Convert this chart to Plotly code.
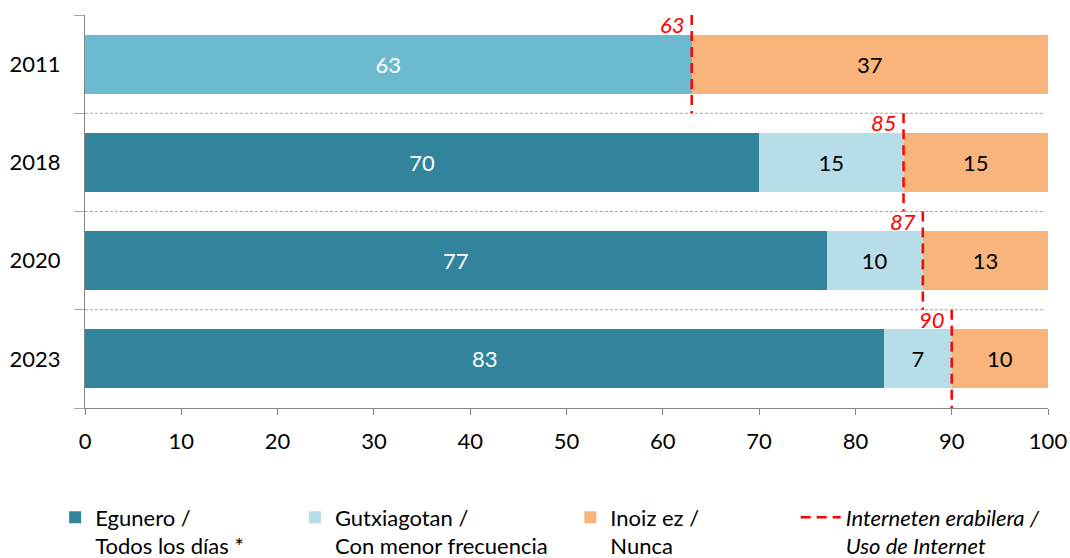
import plotly.graph_objects as go

# ---- data ----
years = ["2011", "2018", "2020", "2023"]
daily = [None, 70, 77, 83]          # Egunero / Todos los días *
less = [63, 15, 10, 7]              # Gutxiagotan / Con menor frecuencia
never = [37, 15, 13, 10]            # Inoiz ez / Nunca
internet_use = [63, 85, 87, 90]     # Interneten erabilera / Uso de Internet
x_ticks = [0, 10, 20, 30, 40, 50, 60, 70, 80, 90, 100]

C_DAILY = "#31849B"
C_LESS = "#B7DEE8"
C_2011 = "#6BBAD0"
C_NEVER = "#F8B47B"
RED = "#FF0000"
GRAY = "#A6A6A6"
FONT = "Lato"
FS = 22

pos = list(range(len(years)))

fig = go.Figure()

fig.add_trace(go.Bar(
    y=pos[1:], x=daily[1:], orientation="h", width=0.6,
    name="Egunero /<br>Todos los días *",
    marker=dict(color=C_DAILY, line=dict(width=0)),
    text=[str(v) for v in daily[1:]], textposition="inside",
    insidetextanchor="middle", textfont=dict(color="white", size=FS, family=FONT),
    legend="legend", hoverinfo="x",
))
fig.add_trace(go.Bar(
    y=pos[1:], x=less[1:], orientation="h", width=0.6,
    name="Gutxiagotan /<br>Con menor frecuencia",
    marker=dict(color=C_LESS, line=dict(width=0)),
    text=[str(v) for v in less[1:]], textposition="inside",
    insidetextanchor="middle", textfont=dict(color="black", size=FS, family=FONT),
    legend="legend2", hoverinfo="x",
))
fig.add_trace(go.Bar(
    y=pos[:1], x=less[:1], orientation="h", width=0.6,
    name="2011", showlegend=False,
    marker=dict(color=C_2011, line=dict(width=0)),
    text=[str(v) for v in less[:1]], textposition="inside",
    insidetextanchor="middle", textfont=dict(color="white", size=FS, family=FONT),
    hoverinfo="x",
))
fig.add_trace(go.Bar(
    y=pos, x=never, orientation="h", width=0.6,
    name="Inoiz ez /<br>Nunca",
    marker=dict(color=C_NEVER, line=dict(width=0)),
    text=[str(v) for v in never], textposition="inside",
    insidetextanchor="middle", textfont=dict(color="black", size=FS, family=FONT),
    legend="legend3", hoverinfo="x",
))

# red dashed internet-use lines, one per category band
lx, ly = [], []
for i, v in enumerate(internet_use):
    lx += [v, v, None]
    ly += [i - 0.5, i + 0.5, None]
fig.add_trace(go.Scatter(
    x=lx, y=ly, mode="lines",
    line=dict(color=RED, width=2.5, dash="10px,6px"),
    name="<i>Interneten erabilera /<br>Uso de Internet</i>",
    legend="legend4", hoverinfo="skip",
))

# red italic labels
for i, v in enumerate(internet_use):
    fig.add_annotation(
        x=v, y=i - 0.5, text=f"<i>{v}</i>", showarrow=False,
        xanchor="right", yanchor="top", xshift=-5, yshift=6,
        font=dict(color=RED, size=FS, family=FONT),
    )

# dotted separators between categories
for i in range(len(years) - 1):
    fig.add_shape(
        type="line", xref="x", yref="y",
        x0=-1.05, x1=99.7, y0=i + 0.5, y1=i + 0.5,
        line=dict(color=GRAY, width=1, dash="3px,2px"), layer="below",
    )

leg_common = dict(
    orientation="v", yanchor="top", xanchor="left",
    font=dict(family=FONT, size=FS, color="#000000"),
    valign="top", bgcolor="rgba(0,0,0,0)", tracegroupgap=0,
)
LY = -0.225

fig.update_layout(
    width=1070, height=558,
    margin=dict(l=85, r=22, t=15, b=150, autoexpand=False),
    paper_bgcolor="white", plot_bgcolor="white",
    barmode="stack", bargap=0.4,
    font=dict(family=FONT, size=FS, color="#000000"),
    showlegend=True,
    legend=dict(**leg_common, x=-0.031, y=LY),
    legend2=dict(**leg_common, x=0.218, y=LY),
    legend3=dict(**leg_common, x=0.504, y=LY),
    legend4=dict(**leg_common, x=0.738, y=LY, itemwidth=40),
    xaxis=dict(
        range=[0, 100], tickvals=x_ticks, ticktext=[str(t) for t in x_ticks],
        showgrid=False, zeroline=False,
        showline=True, linecolor="#868686", linewidth=1,
        ticks="outside", ticklen=6, tickcolor="#868686",
        ticklabelstandoff=8,
        tickfont=dict(family=FONT, size=FS, color="#000000"),
    ),
    yaxis=dict(
        range=[len(years) - 0.5, -0.5],
        tickmode="array", tickvals=pos, ticktext=years,
        showgrid=False, zeroline=False,
        showline=True, linecolor="#868686", linewidth=1,
        ticks="", ticklabelstandoff=19,
        tickfont=dict(family=FONT, size=FS, color="#000000"),
        minor=dict(tickmode="array", tickvals=[i - 0.5 for i in range(len(years) + 1)],
                   ticks="outside", ticklen=10, tickcolor=GRAY, showgrid=False),
    ),
)

fig.write_html(
    "out.html",
    config={"displayModeBar": False},
    post_script="document.body.style.margin='0px';document.body.style.padding='0px';",
)
